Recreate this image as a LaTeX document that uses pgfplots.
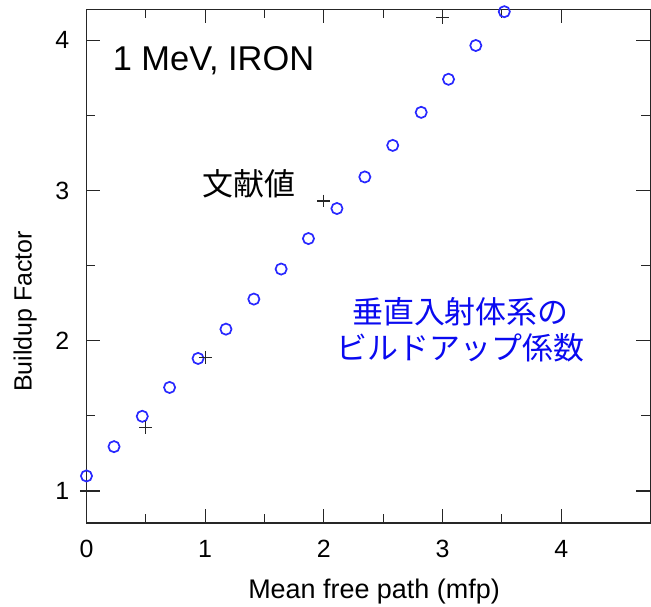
\documentclass[border=0pt]{standalone}
\usepackage{pgfplots}
\pgfplotsset{compat=1.18}
\usepackage{fontspec}
\setmainfont{Liberation Sans}
\newfontfamily\cjk{Noto Sans CJK JP}
\definecolor{ptblue}{RGB}{40,40,255}
\definecolor{txtblue}{RGB}{10,10,240}
\begin{document}
\begin{tikzpicture}
\begin{axis}[
  at={(0,0)}, anchor=south west,
  scale only axis,
  width=565.25bp, height=515bp,
  xmin=0, xmax=4.75, ymin=0.787, ymax=4.206,
  xtick={0,1,2,3,4}, ytick={1,2,3,4},
  minor x tick num=1, minor y tick num=1,
  tick align=inside,
  major tick length=14bp, minor tick length=9bp,
  every tick/.style={line width=1.1bp, black!85},
  axis line style={line width=1.4bp, black!85},
  /pgf/number format/assume math mode=true,
  ticklabel style={font=\fontsize{25bp}{30bp}\selectfont},
  xticklabel style={anchor=north, inner sep=0pt, yshift=-17bp},
  yticklabel style={anchor=east, inner sep=0pt, xshift=-17bp},
  xlabel={Mean free path (mfp)},
  ylabel={Buildup Factor},
  xlabel style={font=\fontsize{27bp}{32bp}\selectfont, at={([yshift=-75.7bp]axis description cs:0.51,0)}, anchor=base, inner sep=0pt},
  ylabel style={font=\fontsize{25bp}{30bp}\selectfont, at={([xshift=-55bp]axis description cs:0,0.412)}, anchor=base, inner sep=0pt},
  clip=false,
]
\addplot[only marks, mark=o, mark size=5.6bp, ptblue, line width=1.7bp] coordinates {
(0,1.10) (0.232,1.295) (0.47,1.497) (0.70,1.689) (0.94,1.882) (1.175,2.077)
(1.41,2.277) (1.64,2.477) (1.87,2.68) (2.11,2.88) (2.345,3.09) (2.58,3.30)
(2.82,3.52) (3.05,3.74) (3.28,3.965) (3.52,4.19)
};
\addplot[only marks, mark=+, mark size=6.5bp, black!85, line width=1.1bp] coordinates {
(0,1.0) (0.5,1.42) (1.0,1.89) (2.0,2.93) (3.0,4.15)
};
\node[anchor=base west, inner sep=0pt, font=\fontsize{34.5bp}{40bp}\selectfont] at (axis cs:0.22,3.798) {1 MeV, IRON};
\node[inner sep=0pt, font=\cjk\fontsize{31bp}{36bp}\selectfont] at (axis cs:1.368,3.047) {文献値};
\node[inner sep=0pt, align=center, text=txtblue, font=\cjk\fontsize{31bp}{36bp}\selectfont] at (axis cs:3.15,2.073) {垂直入射体系の\\ビルドアップ係数};
\end{axis}
\path[use as bounding box] (-86.7bp,-83.7bp) rectangle (564.3bp,524.3bp);
\end{tikzpicture}
\end{document}
